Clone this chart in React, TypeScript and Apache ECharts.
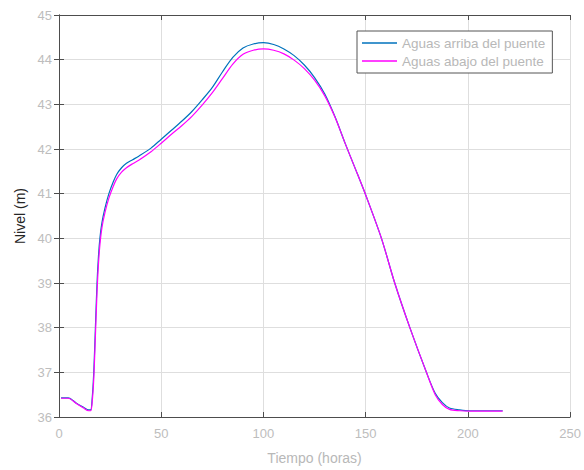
import React, { useEffect, useRef } from "react";
import * as echarts from "echarts";

const tiempo = [1, 4.5, 8.5, 12, 14.5, 15.5, 16.2, 17, 17.8, 18.6, 19.3, 20, 21, 22.5, 24.4, 26.5, 28.2, 30.6, 33, 36, 39, 45, 50, 55, 60, 65, 70, 75, 80, 85, 90, 95, 100, 105, 110, 115, 120, 125, 130, 135, 140, 145, 150, 157.7, 164.2, 171.6, 179.7, 184, 187.5, 191, 196, 201, 210, 217];

const arriba = [36.43, 36.43, 36.31, 36.22, 36.16, 36.16, 36.4, 37.0, 38.0, 39.0, 39.6, 40.0, 40.35, 40.68, 41.0, 41.26, 41.43, 41.58, 41.68, 41.76, 41.84, 42.02, 42.22, 42.42, 42.62, 42.84, 43.1, 43.38, 43.73, 44.05, 44.26, 44.35, 44.38, 44.34, 44.24, 44.09, 43.88, 43.6, 43.23, 42.72, 42.12, 41.55, 40.97, 40.0, 39.0, 38.0, 37.0, 36.53, 36.32, 36.2, 36.16, 36.14, 36.14, 36.14];

const abajo = [36.42, 36.42, 36.3, 36.2, 36.14, 36.14, 36.32, 36.85, 37.8, 38.8, 39.42, 39.85, 40.24, 40.58, 40.9, 41.16, 41.33, 41.48, 41.58, 41.67, 41.75, 41.94, 42.13, 42.33, 42.52, 42.73, 42.98, 43.26, 43.58, 43.9, 44.12, 44.21, 44.24, 44.21, 44.13, 43.99, 43.8, 43.54, 43.19, 42.71, 42.12, 41.55, 40.97, 40.0, 39.0, 38.0, 37.0, 36.5, 36.28, 36.17, 36.14, 36.13, 36.13, 36.13];

const serieNombres = ["Aguas arriba del puente", "Aguas abajo del puente"];

const FONT = "'Liberation Sans', Arial, sans-serif";

export default function App() {
  const ref = useRef<HTMLDivElement>(null);
  useEffect(() => {
    if (!ref.current) return;
    const chart = echarts.init(ref.current, null, { renderer: "svg" });
    const axisLine = { show: true, lineStyle: { color: "#4d4d4d", width: 1 } };
    const tick = { show: true, inside: true, length: 5, lineStyle: { color: "#4d4d4d" } };
    chart.setOption({
      animation: false,
      backgroundColor: "#fff",
      grid: { left: 59, right: 13, top: 15, bottom: 51, containLabel: false },
      legend: {
        orient: "vertical",
        left: 357,
        top: 31,
        padding: [5, 7, 5, 5],
        itemGap: 4,
        itemWidth: 35,
        itemHeight: 1.5,
        icon: "rect",
        borderColor: "#555",
        borderWidth: 1,
        backgroundColor: "#fff",
        textStyle: { color: "#b8b8b8", fontSize: 13.5, fontFamily: FONT },
        data: serieNombres,
      },
      xAxis: [
        {
          type: "value",
          min: 0,
          max: 250,
          interval: 50,
          name: "Tiempo (horas)",
          nameLocation: "middle",
          nameGap: 34,
          nameTextStyle: { color: "#b8b8b8", fontSize: 14, fontFamily: FONT },
          axisLine,
          axisTick: tick,
          axisLabel: { color: "#bdbdbd", fontSize: 13, margin: 10, fontFamily: FONT },
          splitLine: { show: true, lineStyle: { color: "#dedede", width: 1 } },
        },
        {
          type: "value",
          position: "top",
          min: 0,
          max: 250,
          interval: 50,
          axisLine,
          axisTick: tick,
          axisLabel: { show: false },
          splitLine: { show: false },
        },
      ],
      yAxis: [
        {
          type: "value",
          min: 36,
          max: 45,
          interval: 1,
          name: "Nivel (m)",
          nameLocation: "middle",
          nameGap: 30,
          nameTextStyle: { color: "#262626", fontSize: 14, fontFamily: FONT },
          axisLine,
          axisTick: tick,
          axisLabel: { color: "#bdbdbd", fontSize: 13, margin: 7, fontFamily: FONT },
          splitLine: { show: true, lineStyle: { color: "#dedede", width: 1 } },
        },
        {
          type: "value",
          position: "right",
          min: 36,
          max: 45,
          interval: 1,
          axisLine,
          axisTick: tick,
          axisLabel: { show: false },
          splitLine: { show: false },
        },
      ],
      series: [
        {
          name: serieNombres[0],
          type: "line",
          data: tiempo.map((t, i) => [t, arriba[i]]),
          showSymbol: false,
          symbol: "none",
          smooth: 0.3,
          lineStyle: { color: "#0072BD", width: 1.2 },
          itemStyle: { color: "#0072BD" },
          z: 2,
        },
        {
          name: serieNombres[1],
          type: "line",
          data: tiempo.map((t, i) => [t, abajo[i]]),
          showSymbol: false,
          symbol: "none",
          smooth: 0.3,
          lineStyle: { color: "#FF00FF", width: 1.2 },
          itemStyle: { color: "#FF00FF" },
          z: 3,
        },
      ],
    });
    return () => chart.dispose();
  }, []);
  return <div ref={ref} style={{ width: 584, height: 470, position: "absolute", left: 0, top: 0 }} />;
}
